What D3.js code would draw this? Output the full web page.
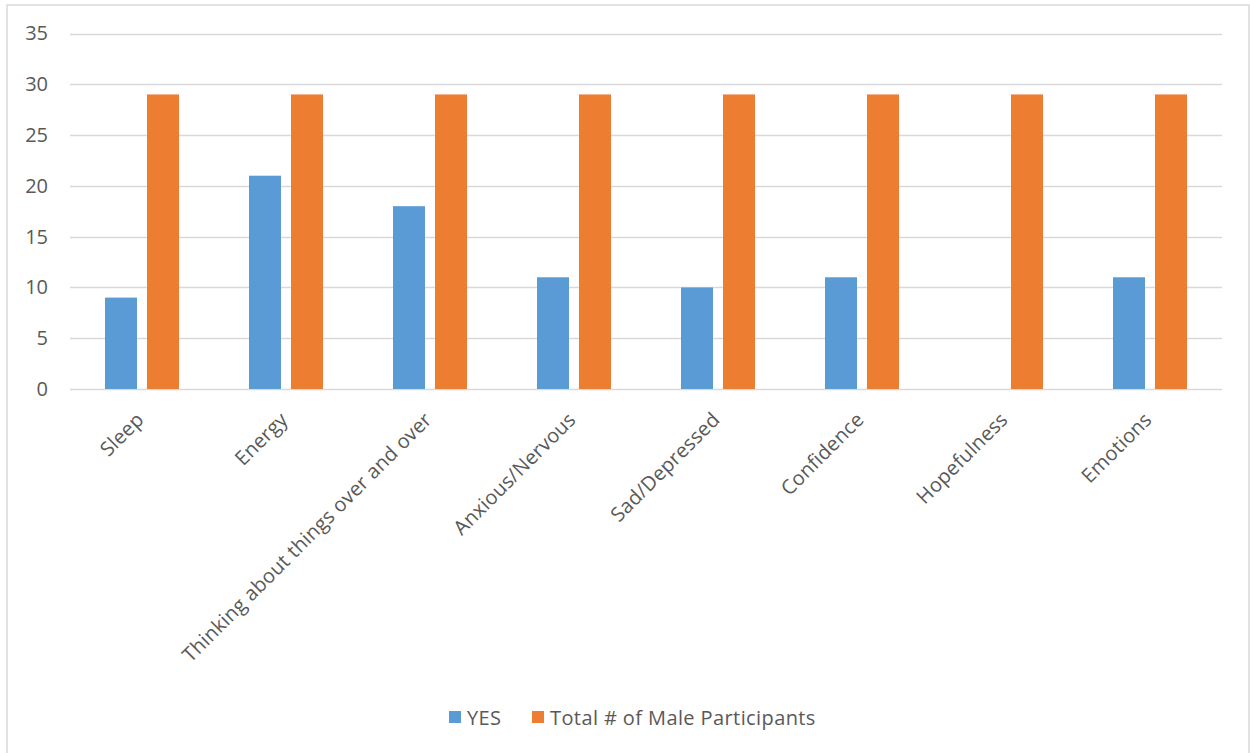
<!DOCTYPE html>
<html>
<head>
<meta charset="utf-8">
<script src="https://cdn.jsdelivr.net/npm/d3@7"></script>
<style>
html, body { margin: 0; padding: 0; background: #fff; }
svg { display: block; }
text { font-family: "Open Sans", "Noto Sans", sans-serif; fill: #595959; }
</style>
</head>
<body>
<svg id="chart" width="1250" height="753"></svg>
<script>
const categories = ["Sleep", "Energy", "Thinking about things over and over", "Anxious/Nervous", "Sad/Depressed", "Confidence", "Hopefulness", "Emotions"];
const yesValues = [9, 21, 18, 11, 10, 11, 0, 11];
const totalValues = [29, 29, 29, 29, 29, 29, 29, 29];
const seriesNames = ["YES", "Total # of Male Participants"];
const seriesColors = ["#5B9BD5", "#ED7D31"];
const yTicks = [0, 5, 10, 15, 20, 25, 30, 35];

(function () {
const svg = d3.select("#chart");
const W = 1250, H = 753;

// chart border
svg.append("rect").attr("x", 7).attr("y", 5).attr("width", 1242).attr("height", H + 10)
  .attr("fill", "none").attr("stroke", "#D9D9D9").attr("stroke-width", 1.5);

const pLeft = 70, pRight = 1222, pTop = 33.5, pBottom = 389;
const x = d3.scaleBand().domain(categories).range([pLeft, pRight]).padding(0);
const y = d3.scaleLinear().domain([0, 35]).range([pBottom, pTop]);

const series = [yesValues, totalValues];
const barW = 32, gap = 10;
const groupW = barW * 2 + gap;

// gridlines
svg.append("g").selectAll("line").data(yTicks).join("line")
  .attr("x1", pLeft).attr("x2", pRight)
  .attr("y1", d => Math.round(y(d)) + 0.5).attr("y2", d => Math.round(y(d)) + 0.5)
  .attr("stroke", "#D9D9D9").attr("stroke-width", 1.5);

// y labels
const yAxis = d3.axisLeft(y).tickValues(yTicks).tickSize(0).tickPadding(0);
const yg = svg.append("g").attr("transform", "translate(48,0)").call(yAxis);
yg.select(".domain").remove();
yg.selectAll("text").style("font-size", "20px").attr("fill", "#595959")
  .style("font-family", "'Open Sans', sans-serif");

// bars
seriesNames.forEach((name, si) => {
  svg.append("g").selectAll("rect").data(categories).join("rect")
    .attr("x", (c) => x(c) + (x.bandwidth() - groupW) / 2 + si * (barW + gap))
    .attr("width", barW)
    .attr("y", (c, i) => y(series[si][i]))
    .attr("height", (c, i) => y(0) - y(series[si][i]))
    .attr("fill", seriesColors[si]);
});

// x labels
svg.append("g").selectAll("text").data(categories).join("text")
  .attr("transform", c => `translate(${x(c) + x.bandwidth() / 2 + 3},${421}) rotate(-45)`)
  .attr("text-anchor", "end")
  .style("font-size", "20px")
  .style("letter-spacing", "0.2px")
  .text(c => c);

// legend
const legend = svg.append("g");
const legendItems = [{ name: seriesNames[0], color: seriesColors[0], x: 449 }, { name: seriesNames[1], color: seriesColors[1], x: 532 }];
legendItems.forEach(it => {
  legend.append("rect").attr("x", it.x).attr("y", 711).attr("width", 12).attr("height", 12).attr("fill", it.color);
  legend.append("text").attr("x", it.x + 18).attr("y", 725).style("font-size", "20px")
    .style("letter-spacing", "0.4px").text(it.name);
});
})();
</script>
</body>
</html>
